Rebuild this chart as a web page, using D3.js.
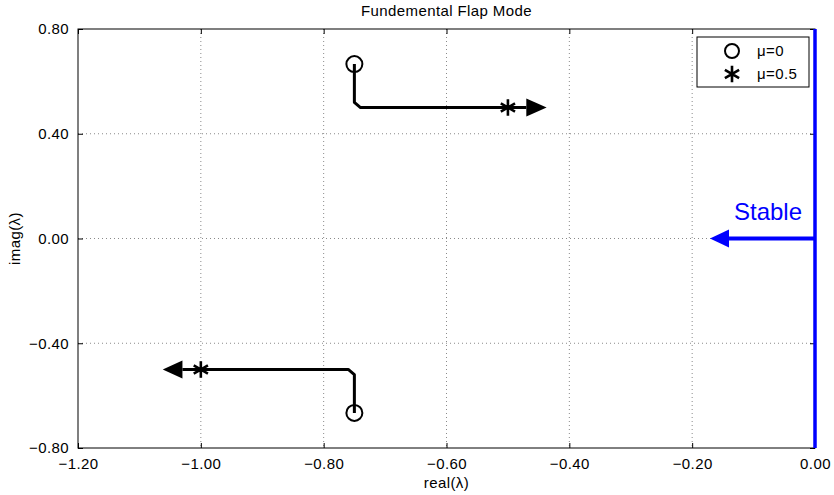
<!DOCTYPE html>
<html><head><meta charset="utf-8">
<script src="https://cdn.jsdelivr.net/npm/d3@7"></script>
<style>body{margin:0;background:#fff}svg{display:block}text{font-family:"Liberation Sans",Arial,sans-serif}</style>
</head><body><svg id="c" width="834" height="495"></svg>
<script>
const title = "Fundemental Flap Mode";
const xTicks = [-1.2, -1.0, -0.8, -0.6, -0.4, -0.2, 0.0];
const yTicks = [-0.8, -0.4, 0.0, 0.4, 0.8];
// locus paths (real, imag)
const upperReal = [-0.75, -0.75, -0.74, -0.47];
const upperImag = [0.666, 0.52, 0.5, 0.5];
const upperArrowTip = [-0.437, 0.5];
const lowerReal = [-0.75, -0.75, -0.76, -1.03];
const lowerImag = [-0.666, -0.52, -0.5, -0.5];
const lowerArrowTip = [-1.062, -0.5];
// markers
const mu0Real = [-0.75, -0.75];
const mu0Imag = [0.666, -0.666];
const mu05Real = [-0.5, -1.0];
const mu05Imag = [0.5, -0.5];
const legendLabels = ["\u03bc=0", "\u03bc=0.5"];
// stable indicator
const stableReal = [0.0, -0.14];
const stableImag = [0.0, 0.0];
const stableArrowTip = [-0.171, 0.0];

const svg = d3.select("#c");
const L = 78, R = 815, T = 29, B = 448;
const FS = 15, LS = 0.4;
const x = d3.scaleLinear().domain([-1.2, 0]).range([L, R]);
const y = d3.scaleLinear().domain([-0.8, 0.8]).range([B, T]);
const fmt = v => { const s = Math.abs(v).toFixed(2); return (v < -1e-9 ? "\u2212" : "") + s; };

// grid
const g = svg.append("g");
g.selectAll(".gx").data(xTicks.slice(1, -1)).join("line")
  .attr("x1", d => x(d)).attr("x2", d => x(d)).attr("y1", T).attr("y2", B)
  .attr("stroke", "#8a8a8a").attr("stroke-width", 1).attr("stroke-dasharray", "1,3");
g.selectAll(".gy").data(yTicks.slice(1, -1)).join("line")
  .attr("y1", d => y(d)).attr("y2", d => y(d)).attr("x1", L).attr("x2", R)
  .attr("stroke", "#8a8a8a").attr("stroke-width", 1).attr("stroke-dasharray", "1,3");

// axes (ticks inward)
const tl = 5;
svg.append("g").attr("transform", `translate(0,${B})`)
  .call(d3.axisBottom(x).tickValues(xTicks).tickFormat(fmt).tickSizeInner(-tl).tickSizeOuter(0).tickPadding(10))
  .call(a => { a.select(".domain").remove(); a.selectAll("text").attr("font-size", FS).attr("letter-spacing", LS).attr("fill", "#000"); });
svg.append("g").attr("transform", `translate(0,${T})`)
  .call(d3.axisTop(x).tickValues(xTicks).tickFormat("").tickSizeInner(-tl).tickSizeOuter(0))
  .call(a => a.select(".domain").remove());
svg.append("g").attr("transform", `translate(${L},0)`)
  .call(d3.axisLeft(y).tickValues(yTicks).tickFormat(fmt).tickSizeInner(-tl).tickSizeOuter(0).tickPadding(9))
  .call(a => { a.select(".domain").remove(); a.selectAll("text").attr("font-size", FS).attr("letter-spacing", LS).attr("fill", "#000"); });
svg.append("g").attr("transform", `translate(${R},0)`)
  .call(d3.axisRight(y).tickValues(yTicks).tickFormat("").tickSizeInner(-tl).tickSizeOuter(0))
  .call(a => a.select(".domain").remove());
svg.append("rect").attr("x", L).attr("y", T).attr("width", R - L).attr("height", B - T)
  .attr("fill", "none").attr("stroke", "#000").attr("stroke-width", 1);

// locus lines
const line = d3.line().x(d => x(d[0])).y(d => y(d[1])).curve(d3.curveLinear);
const upper = upperReal.map((v, i) => [v, upperImag[i]]);
const lower = lowerReal.map((v, i) => [v, lowerImag[i]]);
[upper, lower].forEach(p => svg.append("path").attr("d", line(p)).attr("fill", "none")
  .attr("stroke", "#000").attr("stroke-width", 3).attr("stroke-linejoin", "round"));

function arrowHead(base, tip, color, halfW) {
  const bx = x(base[0]), by = y(base[1]), tx = x(tip[0]), ty = y(tip[1]);
  svg.append("path").attr("d", `M${tx},${ty}L${bx},${by - halfW}L${bx},${by + halfW}Z`).attr("fill", color);
}
arrowHead(upper[upper.length - 1], upperArrowTip, "#000", 9);
arrowHead(lower[lower.length - 1], lowerArrowTip, "#000", 9);

// stable
svg.append("line").attr("x1", x(0)).attr("x2", x(0)).attr("y1", T).attr("y2", B)
  .attr("stroke", "#0000ff").attr("stroke-width", 3.5);
const st = stableReal.map((v, i) => [v, stableImag[i]]);
svg.append("path").attr("d", line(st)).attr("stroke", "#0000ff").attr("stroke-width", 4).attr("fill", "none");
arrowHead(st[1], stableArrowTip, "#0000ff", 9);
svg.append("text").attr("x", 768).attr("y", 220).attr("text-anchor", "middle")
  .attr("font-size", 24).attr("fill", "#0000ff").text("Stable");

// markers
const star = d3.symbol().type(d3.symbolAsterisk).size(190);
mu0Real.forEach((v, i) => svg.append("circle").attr("cx", x(v)).attr("cy", y(mu0Imag[i])).attr("r", 8)
  .attr("fill", "none").attr("stroke", "#000").attr("stroke-width", 2));
mu05Real.forEach((v, i) => svg.append("path").attr("d", star())
  .attr("transform", `translate(${x(v)},${y(mu05Imag[i])})`).attr("fill", "none")
  .attr("stroke", "#000").attr("stroke-width", 2.6));

// legend
const lg = svg.append("g");
lg.append("rect").attr("x", 697).attr("y", 37).attr("width", 112).attr("height", 50)
  .attr("fill", "#fff").attr("stroke", "#000").attr("stroke-width", 1);
lg.append("circle").attr("cx", 732).attr("cy", 51).attr("r", 7).attr("fill", "none")
  .attr("stroke", "#000").attr("stroke-width", 2);
lg.append("path").attr("d", star()).attr("transform", "translate(732,74)")
  .attr("fill", "none").attr("stroke", "#000").attr("stroke-width", 2.6);
legendLabels.forEach((t, i) => lg.append("text").attr("x", 757).attr("y", 56 + i * 23)
  .attr("font-size", FS).attr("letter-spacing", LS).text(t));

// titles
svg.append("text").attr("x", (L + R) / 2).attr("y", 16).attr("text-anchor", "middle")
  .attr("font-size", FS).attr("letter-spacing", LS).text(title);
svg.append("text").attr("x", (L + R) / 2).attr("y", 488).attr("text-anchor", "middle")
  .attr("font-size", FS).attr("letter-spacing", LS).text("real(\u03bb)");
svg.append("text").attr("transform", `translate(20,${(T + B) / 2}) rotate(-90)`).attr("text-anchor", "middle")
  .attr("font-size", FS).attr("letter-spacing", LS).text("imag(\u03bb)");
</script></body></html>
